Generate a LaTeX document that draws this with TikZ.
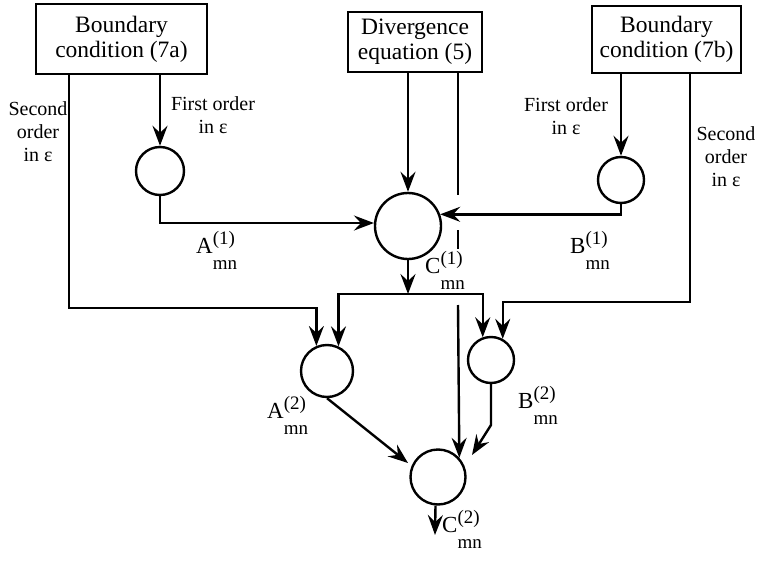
\documentclass[tikz,border=0pt]{standalone}
\usepackage{fontspec}
\setmainfont{Liberation Serif}
\usetikzlibrary{arrows.meta,calc}
\newcommand\coef[2]{{\fontsize{23}{23}\selectfont #1}{\fontsize{19}{19}\selectfont\rlap{\raisebox{9pt}{(#2)}}\raisebox{-16pt}{mn}}}
\begin{document}
\begin{tikzpicture}[x=1pt,y=-1pt,
  box/.style={draw,line width=2.4pt,inner sep=0pt,align=center,font=\fontsize{23.5}{25}\selectfont},
  circ/.style={draw,circle,line width=2.4pt,inner sep=0pt},
  ln/.style={line width=2.4pt},
  arr/.style={ln,-{Stealth[length=20pt,width=15pt,inset=7pt]}},
  note/.style={align=center,font=\fontsize{20}{23}\selectfont,inner sep=0pt},
  coefl/.style={anchor=base west,inner sep=0pt}]
\useasboundingbox (0,0) rectangle (762,564);
% boxes
\node[box,minimum width=171pt,minimum height=70pt] (bA) at (121.5,39) {Boundary\\condition (7a)};
\node[box,minimum width=134pt,minimum height=60pt] (bD) at (415,42) {Divergence\\equation (5)};
\node[box,minimum width=149pt,minimum height=67pt] (bB) at (666.5,39.5) {Boundary\\condition (7b)};
% circles
\node[circ,minimum size=48pt] (A1) at (160,171) {};
\node[circ,minimum size=66pt] (C1) at (408,226) {};
\node[circ,minimum size=46pt] (B1) at (621,180) {};
\node[circ,minimum size=52pt] (A2) at (327,371) {};
\node[circ,minimum size=46pt] (B2) at (491,360) {};
\node[circ,minimum size=55pt] (C2) at (438,477) {};
% helper coordinates
\coordinate (aL) at (69,308);
\coordinate (bR) at (690,302);
\coordinate (br) at (408,294);
\coordinate (dv) at (458,0);
\coordinate (g1) at (458,195);
\coordinate (g2) at (458,230);
\coordinate (g3) at (458,249);
\coordinate (g4) at (458,305);
\coordinate (eA) at (408,463);
\coordinate (kB) at (491,425);
\coordinate (eB) at (472,455);
\coordinate (eC) at (435,535);
% connectors
\draw[arr] (A1 |- bA.south) -- (A1.north);
\draw[arr] (bA.south -| aL) |- (A2.113 |- aL) -- (A2.113);
\draw[arr] (A1.south) |- (C1.175);
\draw[arr] (C1 |- bD.south) -- (C1.north);
\draw[arr] (B1 |- bB.south) -- (B1.north);
\draw[arr] (B1.south) |- (C1.20);
\draw[arr] (bB.south -| bR) |- (B2.61 |- bR) -- (B2.61);
\draw[arr] (C1.south) -- (br);
\draw[arr] (br) -| (A2.65);
\draw[arr] (br) -| (B2.110);
\draw[ln] (bD.south -| dv) -- (g1);
\draw[ln] (g2) -- (g3);
\draw[arr] (g4) -- (C2.42);
\draw[arr] (A2.south) -- (eA);
\draw[arr] (B2.south) -- (kB) -- (eB);
\draw[arr] (C2.265) -- (eC);
% notes
\node[note] (t1) at (38,132) {Second\\order\\in ε};
\node[note] (t2) at (213,115) {First order\\in ε};
\node[note] (t3) at (566,116) {First order\\in ε};
\node[note] (t4) at (726,157) {Second\\order\\in ε};
% coefficient labels
\node[coefl] (lA1) at (196,253) {\coef{A}{1}};
\node[coefl] (lC1) at (425,273) {\coef{C}{1}};
\node[coefl] (lB1) at (570,253) {\coef{B}{1}};
\node[coefl] (lA2) at (267,418) {\coef{A}{2}};
\node[coefl] (lB2) at (518,408) {\coef{B}{2}};
\node[coefl] (lC2) at (442,532) {\coef{C}{2}};
\end{tikzpicture}
\end{document}
